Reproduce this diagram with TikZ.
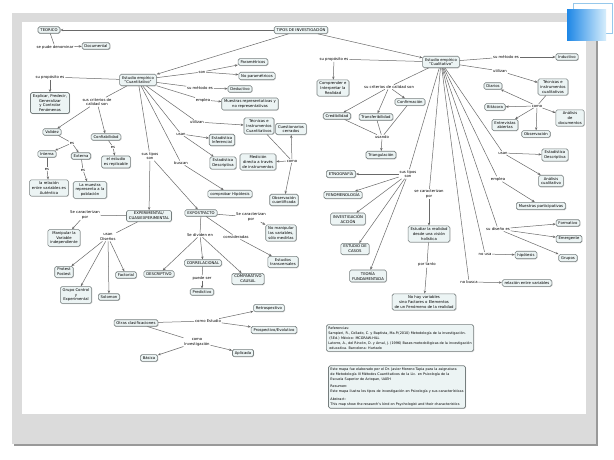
\documentclass[tikz,border=0pt]{standalone}
\usepackage{fontspec}
\setmainfont{DejaVu Sans}
\usetikzlibrary{arrows.meta,shadows}
\definecolor{cfill}{RGB}{236,244,244}
\definecolor{cline}{RGB}{105,105,105}
\definecolor{cbord}{RGB}{118,126,126}
\newcommand\cmf{\fontsize{3.8}{4.8}\selectfont}
\newcommand\smf{\fontsize{3.4}{5.0}\selectfont}
\tikzset{
 concept/.style={draw=cbord, fill=cfill, rounded corners=1.6pt, line width=0.6pt, inner xsep=2.4pt, inner ysep=1.8pt, align=center, font=\cmf, drop shadow={shadow xshift=0.7pt, shadow yshift=-0.7pt, opacity=0.3}},
 infobox/.style={concept, align=left, font=\smf, inner xsep=2pt, inner ysep=2pt},
 lbl/.style={inner sep=0.7pt, align=center, font=\cmf},
 cn/.style={draw=cline, line width=0.5pt},
 ar/.style={cn, -{Stealth[length=3pt,width=2.4pt]}},
}
\begin{document}
\begin{tikzpicture}[x=1pt,y=-1pt]
\useasboundingbox (0,0) rectangle (614,460);
% background and frame
\fill[white] (0,0) rectangle (614,460);
\fill[black!40] (14,15) rectangle (598,446);
\fill[black!14] (12,13) rectangle (596,444);
\fill[white] (22,22) rectangle (586,414);
\draw[draw={rgb,255:red,150;green,200;blue,235}, fill=white, line width=0.6pt] (573,3) rectangle (612,33);
\shade[left color={rgb,255:red,30;green,135;blue,230}, right color={rgb,255:red,215;green,238;blue,252}] (567,10) rectangle (606,41);

% ---------- concepts: left ----------
\node[concept] (tipos) at (301,30) {TIPOS DE INVESTIGACIÓN};
\node[concept] (teo) at (49,30) {TEORICO};
\node[concept] (doc) at (96,46) {Documental};
\node[concept] (cuan) at (138,80) {Estudio empírico\\"Cuantitativo"};
\node[concept] (expl) at (50,103) {Explicar, Predecir,\\Generalizar\\y Controlar\\Fenómenos};
\node[concept] (val) at (52,132) {Validez};
\node[concept] (conf) at (106,137) {Confiabilidad};
\node[concept] (int) at (47,154) {Interna};
\node[concept] (ext) at (81,156) {Externa};
\node[concept] (rel) at (49,188) {la relación\\entre variables es\\Auténtica};
\node[concept] (mues) at (90,190) {La muestra\\representa a la\\población};
\node[concept] (repl) at (116,162) {el estudio\\es replicable};
\node[concept] (param) at (253,62) {Paramétricos};
\node[concept] (nopar) at (257,76) {No paramétricos};
\node[concept] (dedu) at (240,89) {Deductivo};
\node[concept] (mrep) at (250,104) {Muestras representativas y\\no representativas};
\node[concept] (tecq) at (259,126) {Técnicas e\\Instrumentos\\Cuantitativos};
\node[concept] (cues) at (291,129) {Cuestionarios\\cerrados};
\node[concept] (einf) at (222,140) {Estadística\\Inferencial};
\node[concept] (edes) at (223,163) {Estadística\\Descriptiva};
\node[concept] (medi) at (258,162) {Medición\\directa a través\\de instrumentos};
\node[concept] (obsq) at (284,200) {Observación\\cuantificada};
\node[concept] (comp) at (230,194) {comprobar Hipótesis};
\node[concept] (exper) at (149,216) {EXPERIMENTAL/\\CUASIEXPERIMENTAL};
\node[concept] (expo) at (201,213) {EXPOSTFACTO};
\node[concept] (mani) at (64,238) {Manipular la\\Variable\\independiente};
\node[concept] (prot) at (64,272) {Protest\\Postest};
\node[concept] (grup) at (76,295) {Grupo Control\\y\\Experimental};
\node[concept] (solo) at (109,297) {Solomon};
\node[concept] (fact) at (126,275) {Factorial};
\node[concept] (nomani) at (281,233) {No manipular\\las variables,\\sólo medirlas};
\node[concept] (trans) at (283,262) {Estudios\\transversales};
\node[concept] (descr) at (159,274) {DESCRIPTIVO};
\node[concept] (corr) at (203,263) {CORRELACIONAL};
\node[concept] (compc) at (248,279) {COMPARATIVO\\CAUSAL};
\node[concept] (pred) at (202,292) {Predictivo};
\node[concept] (otras) at (136,323) {Otras clasificaciones};
\node[concept] (retro) at (269,308) {Retrospectivo};
\node[concept] (prosp) at (274,330) {Prospectivo/Evolutivo};
\node[concept] (basi) at (149,358) {Básica};
\node[concept] (apli) at (243,353) {Aplicada};

% ---------- concepts: right ----------
\node[concept] (cual) at (441,62) {Estudio empírico\\"Cualitativo"};
\node[concept] (compr) at (333,88) {Comprender e\\Interpretar la\\Realidad};
\node[concept] (cred) at (337,116) {Credibilidad};
\node[concept] (trf) at (376,117) {Transferibilidad};
\node[concept] (cfm) at (410,102) {Confirmación};
\node[concept] (tri) at (381,155) {Triangulación};
\node[concept] (indu) at (567,57) {Inductivo};
\node[concept] (tecl) at (553,87) {Técnicas e\\instrumentos\\cualitativos};
\node[concept] (diar) at (493,86) {Diarios};
\node[concept] (bita) at (495,107) {Bitácora};
\node[concept] (entr) at (505,125) {Entrevistas\\abiertas};
\node[concept] (obsv) at (536,134) {Observación};
\node[concept] (anal) at (570,118) {Análisis\\de\\documentos};
\node[concept] (edes2) at (555,155) {Estadística\\Descriptiva};
\node[concept] (ancu) at (551,181) {Análisis\\cualitativo};
\node[concept] (mpart) at (541,206) {Muestras participativas};
\node[concept] (form) at (568,223) {Formativo};
\node[concept] (emer) at (569,239) {Emergente};
\node[concept] (grus) at (568,258) {Grupos};
\node[concept] (hipo) at (526,255) {hipótesis};
\node[concept] (relv) at (527,283) {relación entre variables};
\node[concept] (etno) at (341,174) {ETNOGRAFÍA};
\node[concept] (feno) at (343,195) {FENOMENOLOGÍA};
\node[concept] (inva) at (348,219) {INVESTIGACIÓN\\ACCIÓN};
\node[concept] (estc) at (355,249) {ESTUDIO DE\\CASOS};
\node[concept] (teor) at (368,276) {TEORÍA\\FUNDAMENTADA};
\node[concept] (estu) at (429,234) {Estudiar la realidad\\desde una visión\\holística};
\node[concept] (nohay) at (424,302) {No hay variables\\sino Factores o Elementos\\de un Fenómeno de la realidad};
\node[infobox] (refs) at (400,338) {Referencias:\\Sampieri, R., Collado, C. y Baptista, Ma.P.(2010) Metodología de la investigación.\\\ (5Ed.) México: MCGRAW-HILL\\Latorre, A., del Rincón, D. y Arnal, J. (1996) Bases metodológicas de la investigación\\\ educativa. Barcelona: Hurtado};
\node[infobox] (info) at (397,387) {Este mapa fue elaborado por el Dr. Javier Moreno Tapia para la asignatura\\de Metodología III Métodos Cuantitativos de la Lic. en Psicología de la\\Escuela Superior de Actopan, UAEH\\[2.6pt]Resumen:\\Este mapa ilustra los tipos de investigación en Psicología y sus características\\[2.6pt]Abstract:\\This map show the research's kind on Psychologist and their characteristics};

% ---------- linking phrases: left ----------
\node[lbl] (lpude) at (55,47) {se pude denominar};
\node[lbl] (lprop1) at (50,77) {su propósito es};
\node[lbl] (lcrit1) at (97,102) {sus criterios de\\calidad son};
\node[lbl] (les1) at (72,143) {es};
\node[lbl] (les2) at (47,169) {es};
\node[lbl] (les3) at (83,170) {es};
\node[lbl] (les4) at (113,147) {es};
\node[lbl] (lson) at (202,72) {son};
\node[lbl] (lmet1) at (200,88) {su método es};
\node[lbl] (lemp1) at (203,100) {emplea};
\node[lbl] (luti1) at (197,122) {utilizan};
\node[lbl] (lusan1) at (181,134) {usan};
\node[lbl] (lcomo1) at (292,161) {como};
\node[lbl] (lbusc) at (181,163) {buscan};
\node[lbl] (ltipos1) at (150,156) {sus tipos\\son};
\node[lbl] (lcar1) at (85,215) {Se caracterizan\\por};
\node[lbl] (ldis) at (108,237) {usan\\Diseños};
\node[lbl] (lcar2) at (251,217) {Se caracterizan\\por};
\node[lbl] (lcons) at (236,237) {consideradas};
\node[lbl] (ldiv) at (200,235) {Se dividen en};
\node[lbl] (lpue) at (202,278) {puede ser};
\node[lbl] (lcest) at (208,321) {como Estudio};
\node[lbl] (lcinv) at (197,342) {como\\Investigación};

% ---------- linking phrases: right ----------
\node[lbl] (lprop2) at (334,59) {su propósito es};
\node[lbl] (lcrit2) at (389,87) {su criterios de calidad son};
\node[lbl] (lusando) at (382,137) {usando};
\node[lbl] (lmet2) at (506,57) {su método es};
\node[lbl] (luti2) at (500,71) {utilizan};
\node[lbl] (lcomo2) at (537,106) {como};
\node[lbl] (lusan2) at (503,153) {usan};
\node[lbl] (lemp2) at (498,179) {emplea};
\node[lbl] (ldis2) at (498,229) {su diseño es};
\node[lbl] (lnousa) at (485,254) {no usa};
\node[lbl] (lnobus) at (469,282) {no busca};
\node[lbl] (lcar3) at (429,194) {se caracterizan\\por};
\node[lbl] (ltipos2) at (408,174) {sus tipos\\son};
\node[lbl] (lport) at (427,265) {por tanto};

% ---------- connectors: left ----------
\draw[ar] (tipos) -- (teo);
\draw[ar] (tipos) -- (cuan);
\draw[ar] (tipos) -- (cual);
\draw[cn] (teo) -- (lpude); \draw[ar] (lpude) -- (doc);
\draw[cn] (cuan) -- (lprop1); \draw[ar] (lprop1) -- (expl);
\draw[cn] (cuan) -- (lcrit1); \draw[ar] (lcrit1) -- (val); \draw[ar] (lcrit1) -- (conf);
\draw[cn] (val) -- (les1); \draw[ar] (les1) -- (int); \draw[ar] (les1) -- (ext);
\draw[cn] (int) -- (les2); \draw[ar] (les2) -- (rel);
\draw[cn] (ext) -- (les3); \draw[ar] (les3) -- (mues);
\draw[cn] (conf) -- (les4); \draw[ar] (les4) -- (repl);
\draw[cn] (cuan) -- (lson); \draw[ar] (lson) -- (param); \draw[ar] (lson) -- (nopar);
\draw[cn] (cuan) -- (lmet1); \draw[ar] (lmet1) -- (dedu);
\draw[cn] (cuan) -- (lemp1); \draw[ar] (lemp1) -- (mrep);
\draw[cn] (cuan) -- (luti1); \draw[ar] (luti1) -- (tecq);
\draw[cn] (tecq) -- (lcomo1); \draw[ar] (lcomo1) -- (cues); \draw[ar] (lcomo1) -- (medi); \draw[ar] (lcomo1) -- (obsq);
\draw[cn] (cuan) -- (lusan1); \draw[ar] (lusan1) -- (einf); \draw[ar] (lusan1) -- (edes);
\draw[cn] (cuan) -- (lbusc); \draw[ar] (lbusc) -- (comp);
\draw[cn] (cuan) -- (ltipos1); \draw[ar] (ltipos1) -- (exper); \draw[ar] (ltipos1) -- (expo);
\draw[cn] (exper) -- (lcar1); \draw[ar] (lcar1) -- (mani);
\draw[cn] (exper) -- (ldis); \draw[ar] (ldis) -- (prot); \draw[ar] (ldis) -- (grup); \draw[ar] (ldis) -- (solo); \draw[ar] (ldis) -- (fact);
\draw[cn] (expo) -- (lcar2); \draw[ar] (lcar2) -- (nomani);
\draw[cn] (expo) -- (lcons); \draw[ar] (lcons) -- (trans);
\draw[cn] (expo) -- (ldiv); \draw[ar] (ldiv) -- (descr); \draw[ar] (ldiv) -- (corr); \draw[ar] (ldiv) -- (compc);
\draw[cn] (corr) -- (lpue); \draw[ar] (lpue) -- (pred);
\draw[cn] (otras) -- (lcest); \draw[ar] (lcest) -- (retro); \draw[ar] (lcest) -- (prosp);
\draw[cn] (otras) -- (lcinv); \draw[ar] (lcinv) -- (basi); \draw[ar] (lcinv) -- (apli);

% ---------- connectors: right ----------
\draw[cn] (cual) -- (lprop2); \draw[ar] (lprop2) -- (compr);
\draw[cn] (cual) -- (lcrit2); \draw[ar] (lcrit2) -- (cred); \draw[ar] (lcrit2) -- (trf); \draw[ar] (lcrit2) -- (cfm);
\draw[cn] (cred) -- (lusando); \draw[cn] (trf) -- (lusando); \draw[cn] (cfm) -- (lusando); \draw[ar] (lusando) -- (tri);
\draw[cn] (cual) -- (lmet2); \draw[ar] (lmet2) -- (indu);
\draw[cn] (cual) -- (luti2); \draw[ar] (luti2) -- (tecl);
\draw[cn] (tecl) -- (lcomo2); \draw[ar] (lcomo2) -- (diar); \draw[ar] (lcomo2) -- (bita); \draw[ar] (lcomo2) -- (entr); \draw[ar] (lcomo2) -- (obsv); \draw[ar] (lcomo2) -- (anal);
\draw[cn] (cual) -- (lusan2); \draw[ar] (lusan2) -- (edes2); \draw[ar] (lusan2) -- (ancu);
\draw[cn] (cual) -- (lemp2); \draw[ar] (lemp2) -- (mpart);
\draw[cn] (cual) -- (ldis2); \draw[ar] (ldis2) -- (form); \draw[ar] (ldis2) -- (emer); \draw[ar] (ldis2) -- (grus);
\draw[cn] (cual) -- (lnousa); \draw[ar] (lnousa) -- (hipo);
\draw[cn] (cual) -- (lnobus); \draw[ar] (lnobus) -- (relv);
\draw[cn] (cual) -- (lcar3); \draw[ar] (lcar3) -- (estu);
\draw[cn] (estu) -- (lport); \draw[ar] (lport) -- (nohay);
\draw[cn] (cual) -- (ltipos2); \draw[ar] (ltipos2) -- (etno); \draw[ar] (ltipos2) -- (feno); \draw[ar] (ltipos2) -- (inva); \draw[ar] (ltipos2) -- (estc); \draw[ar] (ltipos2) -- (teor);
\end{tikzpicture}
\end{document}
